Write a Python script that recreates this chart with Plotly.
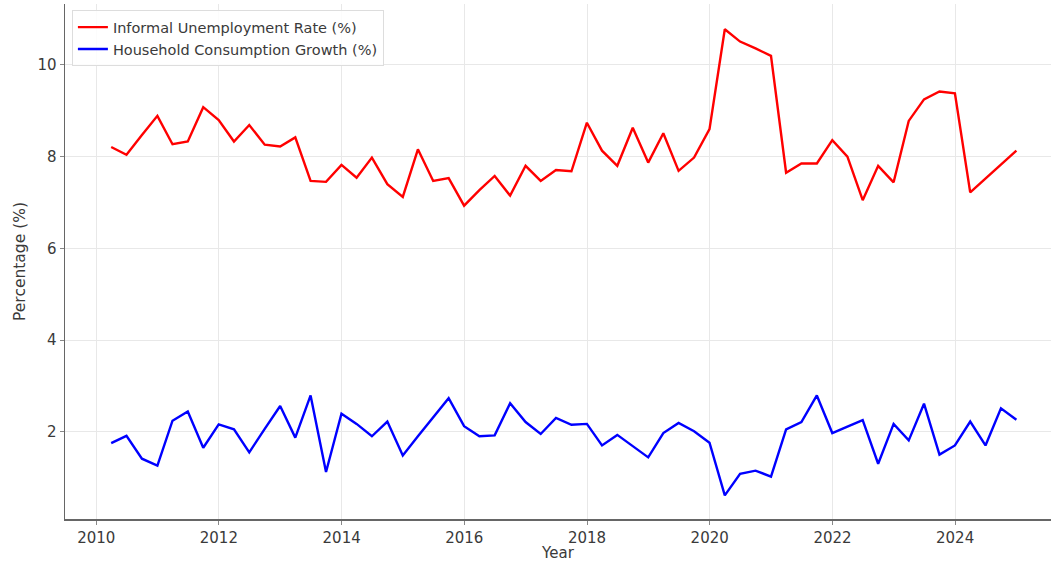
import pandas as pd
import plotly.graph_objects as go

# Quarter-end dates, 2010 Q1 .. 2024 Q4
quarters = pd.date_range("2010-03-31", periods=60, freq="QE").strftime("%Y-%m-%d").tolist()

informal_unemployment = [
    8.21, 8.04, 8.47, 8.89, 8.27, 8.33, 9.08, 8.80, 8.33, 8.69,
    8.26, 8.22, 8.42, 7.47, 7.45, 7.82, 7.54, 7.98, 7.40, 7.12,
    8.16, 7.47, 7.53, 6.93, 7.27, 7.58, 7.15, 7.80, 7.47, 7.71,
    7.68, 8.74, 8.13, 7.80, 8.63, 7.87, 8.51, 7.69, 7.98, 8.60,
    10.78, 10.51, 10.36, 10.20, 7.65, 7.85, 7.85, 8.36, 8.00, 7.05,
    7.80, 7.44, 8.78, 9.25, 9.42, 9.38, 7.22, 7.52, 7.82, 8.13,
]

household_consumption = [
    1.75, 1.91, 1.41, 1.26, 2.24, 2.44, 1.65, 2.16, 2.05, 1.55,
    2.06, 2.56, 1.87, 2.79, 1.12, 2.39, 2.17, 1.90, 2.22, 1.48,
    1.90, 2.32, 2.73, 2.12, 1.90, 1.92, 2.62, 2.21, 1.95, 2.30,
    2.15, 2.17, 1.70, 1.93, 1.68, 1.44, 1.97, 2.19, 2.01, 1.76,
    0.61, 1.08, 1.15, 1.02, 2.05, 2.21, 2.79, 1.97, 2.11, 2.25,
    1.30, 2.17, 1.81, 2.61, 1.50, 1.70, 2.22, 1.70, 2.51, 2.26,
]

x_ticks = ["2010-01-01", "2012-01-01", "2014-01-01", "2016-01-01",
           "2018-01-01", "2020-01-01", "2022-01-01", "2024-01-01"]
x_tick_labels = ["2010", "2012", "2014", "2016", "2018", "2020", "2022", "2024"]
y_ticks = [2, 4, 6, 8, 10]

FONT = "DejaVu Sans, Liberation Sans, sans-serif"

fig = go.Figure()
fig.add_trace(go.Scatter(
    x=quarters, y=informal_unemployment, mode="lines",
    name="Informal Unemployment Rate (%)",
    line=dict(color="#ff0000", width=2.4),
))
fig.add_trace(go.Scatter(
    x=quarters, y=household_consumption, mode="lines",
    name="Household Consumption Growth (%)",
    line=dict(color="#0000ff", width=2.4),
))

fig.update_layout(
    width=1051, height=562,
    margin=dict(l=65, r=0, t=4, b=43),
    paper_bgcolor="white", plot_bgcolor="white",
    font=dict(family=FONT, size=15, color="#3a3a3a"),
    showlegend=True,
    hovermode=False,
    legend=dict(
        x=0.007, y=0.988, xanchor="left", yanchor="top",
        bgcolor="rgba(255,255,255,0.85)", bordercolor="#dddddd", borderwidth=1,
        font=dict(family=FONT, size=14.5, color="#3a3a3a"),
        tracegroupgap=0, itemwidth=30,
    ),
    xaxis=dict(
        type="date",
        range=["2009-06-29", "2025-07-25"],
        tickvals=x_ticks, ticktext=x_tick_labels,
        showgrid=True, gridcolor="#e8e8e8", gridwidth=1,
        showline=True, linecolor="#666666", linewidth=1.5,
        ticks="outside", ticklen=4, tickcolor="#888888",
        zeroline=False, automargin=False,
        title=dict(text="Year", standoff=2, font=dict(size=15, color="#3a3a3a")),
        tickfont=dict(size=15, color="#3a3a3a"),
    ),
    yaxis=dict(
        range=[0.095, 11.33],
        tickvals=y_ticks,
        showgrid=True, gridcolor="#e8e8e8", gridwidth=1,
        showline=True, linecolor="#666666", linewidth=1.5,
        ticks="outside", ticklen=4, tickcolor="#888888",
        zeroline=False, automargin=False,
        title=dict(text="Percentage (%)", standoff=8, font=dict(size=15.5, color="#3a3a3a")),
        tickfont=dict(size=15, color="#3a3a3a"),
    ),
)

fig.write_html(
    "out.html",
    config={"displayModeBar": False, "staticPlot": True},
    post_script="document.body.style.margin='0';document.body.style.overflow='hidden';",
)
